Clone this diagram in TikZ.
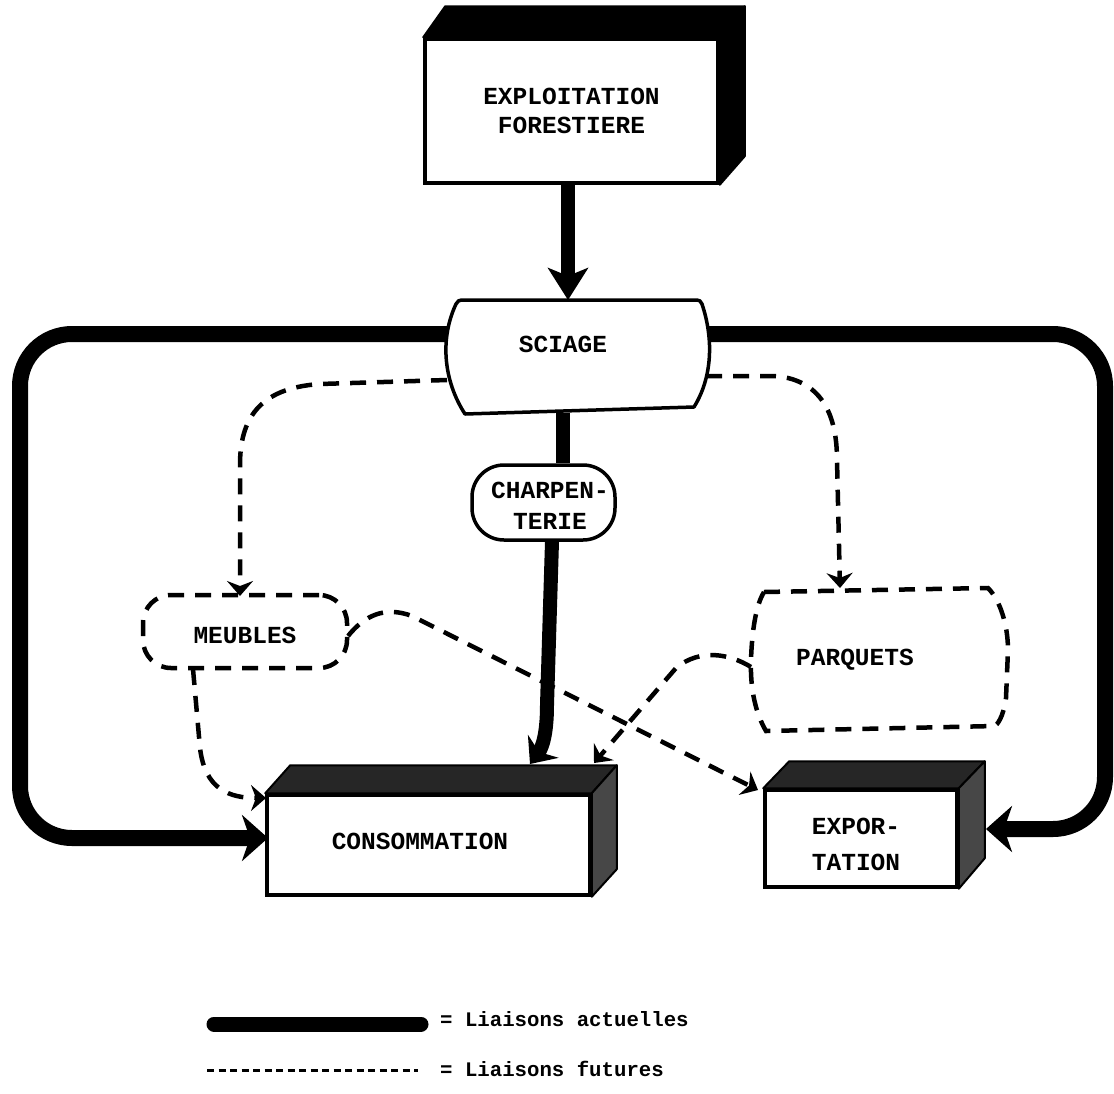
\documentclass[tikz,border=0pt]{standalone}
\usepackage{fontspec}
\setmainfont{Liberation Mono}
\usetikzlibrary{arrows.meta,calc}
\tikzset{
  boxtxt/.style={font=\bfseries\fontsize{24.5}{29}\selectfont, align=center, inner sep=0pt},
  legtxt/.style={font=\bfseries\fontsize{20.7}{24}\selectfont, inner sep=0pt, anchor=west},
  frontface/.style={draw, line width=3.5pt, fill=white, inner sep=0pt},
  topface/.style={fill=black!85, draw=black, line width=2pt, line join=round},
  sideface/.style={fill=black!72, draw=black, line width=2pt, line join=round},
  actual/.style={line width=16pt, line join=round},
  actarrow/.style={actual, -{Stealth[length=26pt,width=46pt,inset=8pt]}},
  fut/.style={dash pattern=on 16pt off 11pt, line width=4.5pt},
  futarrow/.style={fut, -{Stealth[length=15pt,width=26pt,inset=5pt]}},
  plain/.style={line width=3.5pt},
}
\begin{document}
\begin{tikzpicture}[x=1pt,y=-1pt]
\useasboundingbox (0,0) rectangle (1114,1093);

% ---------- EXPLOITATION FORESTIERE ----------
\node[frontface, minimum width=293pt, minimum height=144pt, boxtxt] (expl) at (571.5,111) {EXPLOITATION\\FORESTIERE};
\path[topface, fill=black] (expl.north west) -- ++(22,-31) -- ($(expl.north east)+(25,-31)$) -- (expl.north east) -- cycle;
\path[sideface, fill=black] (expl.north east) -- ++(25,-31) -- ++(0,150) -- (expl.south east) -- cycle;

% ---------- CONSOMMATION / EXPORTATION ----------
\coordinate (sl) at (449,334);
\coordinate (sr) at (702,334);
\node[frontface, minimum width=323pt, minimum height=100pt] (cons) at (428.5,845) {};
\node[boxtxt] (constxt) at (420,841) {CONSOMMATION};
\path[topface] (cons.north west) -- ++(25,-28) -- ($(cons.north east)+(25,-28)$) -- (cons.north east) -- cycle;
\path[sideface] (cons.north east) -- ++(25,-28) -- ++(0,104) -- (cons.south east) -- cycle;

\node[frontface, minimum width=192pt, minimum height=97pt] (expo) at (861,838.5) {};
\node[boxtxt, font=\bfseries\fontsize{24.5}{36}\selectfont] (expotxt) at (856,844) {EXPOR-\\TATION};
\path[topface] (expo.north west) -- ++(26,-27) -- ($(expo.north east)+(26,-27)$) -- (expo.north east) -- cycle;
\path[sideface] (expo.north east) -- ++(26,-27) -- ++(0,97) -- (expo.south east) -- cycle;

% ---------- current links (loops) ----------
\coordinate (consW) at (268,838);
\coordinate (expoE) at (986,829);
\draw[actarrow, rounded corners=52pt] (sl) -- (20,334) -- (20,838) -- (consW);
\draw[actarrow, rounded corners=52pt] (sr) -- (1105,334) -- (1105,829) -- (expoE);

% ---------- SCIAGE ----------
\draw[plain, fill=white, line join=round]
  (464,300) -- (694,300)
  .. controls (700,300) and (701,301) .. (702,304)
  .. controls (714,340) and (712,378) .. (694,407)
  -- (465,414)
  .. controls (443,380) and (440,338) .. (456,304)
  .. controls (457,301) and (459,300) .. (464,300) -- cycle;
\node[boxtxt] (sciage) at (563,344) {SCIAGE};
\coordinate (sciS) at (568,300);
\draw[line width=14pt, -{Stealth[length=32pt,width=40pt,inset=8pt]}] (expl.south -| sciS) -- (sciS);

% ---------- CHARPENTERIE ----------
\node[frontface, rounded corners=32pt, minimum width=143pt, minimum height=75pt] (charp) at (543.5,502.5) {};
\node[boxtxt, font=\bfseries\fontsize{24.5}{31}\selectfont] (charptxt) at (550,506) {CHARPEN-\\TERIE};
\draw[line width=14pt] (563,413) -- (charp.north -| 563,0);
\coordinate (consT) at (530,764);
\draw[line width=14pt, -{Stealth[length=22pt,width=38pt,inset=7pt]}]
  (charp.south -| 552,0) -- (547,705) .. controls (547,735) and (542,748) .. (consT);

% ---------- MEUBLES ----------
\node[fut, draw, rounded corners=28pt, minimum width=204pt, minimum height=73pt] (meub) at (245,631.5) {};
\node[boxtxt] (meubtxt) at (245,635) {MEUBLES};

% ---------- PARQUETS ----------
\draw[fut]
  (764,592) -- (988,588) .. controls (1000,600) and (1008,625) .. (1008,650)
  -- (1006,698) .. controls (1004,712) and (1000,722) .. (995,726)
  -- (766,731) .. controls (756,714) and (750,690) .. (751,660)
  .. controls (752,630) and (756,605) .. (764,592) -- cycle;
\node[boxtxt] (parq) at (855,660) {PARQUETS};

% ---------- future links ----------
\coordinate (meubN) at (240,596);
\coordinate (parqN) at (840,588);
\coordinate (consNW) at (266,798);
\coordinate (expoNW) at (758,790);
\coordinate (consTR) at (594,763);
\draw[futarrow] (447,380) -- (320,384) .. controls (258,388) and (240,420) .. (240,465) -- (meubN);
\draw[futarrow] (706,376) -- (775,376) .. controls (825,380) and (837,420) .. (837,460) -- (parqN);
\draw[futarrow] (193,669) -- (200,748) .. controls (205,790) and (230,798) .. (consNW);
\draw[futarrow] (348,636) .. controls (365,615) and (385,606) .. (412,616) -- (expoNW);
\draw[futarrow] (751,667) .. controls (730,654) and (700,648) .. (676,668) -- (consTR);

% ---------- legend ----------
\coordinate (la1) at (214,1024);
\coordinate (la2) at (421,1024);
\draw[line width=15pt, line cap=round] (la1) -- (la2);
\node[legtxt] (leg1) at (440,1019) {= Liaisons actuelles};
\coordinate (lf1) at (207,1070);
\coordinate (lf2) at (418,1070);
\draw[dash pattern=on 7pt off 4.5pt, line width=3pt] (lf1) -- (lf2);
\node[legtxt] (leg2) at (440,1069) {= Liaisons futures};
\end{tikzpicture}
\end{document}
